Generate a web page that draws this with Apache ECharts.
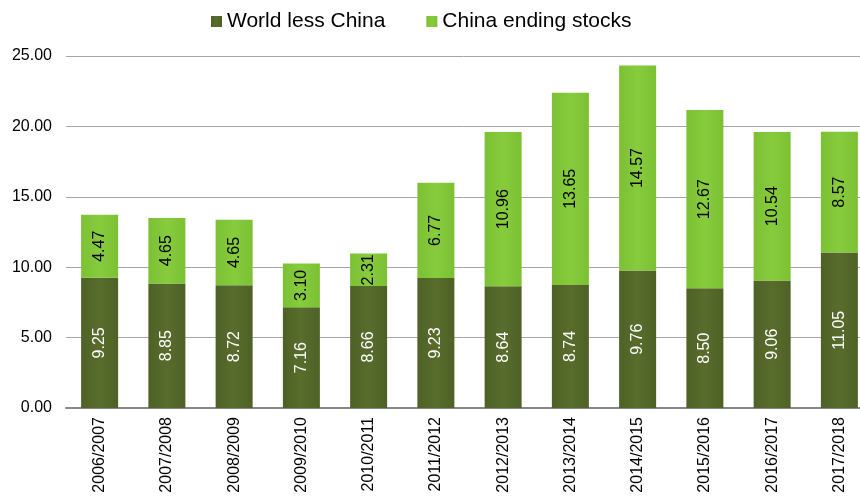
<!DOCTYPE html>
<html><head><meta charset="utf-8">
<script src="https://cdn.jsdelivr.net/npm/echarts@6/dist/echarts.min.js"></script>
<style>html,body{margin:0;padding:0;background:#fff}#c{width:860px;height:497px}</style>
</head><body><div id="c"></div>
<script>
const categories = ["2006/2007","2007/2008","2008/2009","2009/2010","2010/2011","2011/2012","2012/2013","2013/2014","2014/2015","2015/2016","2016/2017","2017/2018"];
const worldLessChina = [9.25,8.85,8.72,7.16,8.66,9.23,8.64,8.74,9.76,8.50,9.06,11.05];
const chinaStocks = [4.47,4.65,4.65,3.10,2.31,6.77,10.96,13.65,14.57,12.67,10.54,8.57];
const seriesNames = ["World less China","China ending stocks"];
const yTicks = {min:0,max:25,interval:5};

const chart = echarts.init(document.getElementById('c'));
const font = '"Liberation Sans", Arial, sans-serif';
function grad(c1,c2,c3){
  return new echarts.graphic.LinearGradient(0,0,1,0,[{offset:0,color:c1},{offset:0.5,color:c2},{offset:1,color:c3}]);
}
chart.setOption({
  animation:false,
  textStyle:{fontFamily:font},
  legend:{
    top:6,left:206,itemWidth:11,itemHeight:11,itemGap:41,icon:'rect',
    textStyle:{fontSize:21,color:'#000',fontFamily:font},
    data:seriesNames
  },
  grid:{left:66,width:807,top:56,height:352,containLabel:false,outerBoundsMode:'none'},
  xAxis:{
    type:'category',data:categories,
    axisLine:{lineStyle:{color:'#888',width:2}},
    axisTick:{show:false},
    axisLabel:{rotate:90,fontSize:16,color:'#000',margin:9,fontFamily:font}
  },
  yAxis:{
    type:'value',min:yTicks.min,max:yTicks.max,interval:yTicks.interval,
    axisLine:{show:false},axisTick:{show:false},
    splitLine:{lineStyle:{color:'#a6a6a6',width:1}},
    axisLabel:{formatter:v=>v.toFixed(2),fontSize:16,color:'#000',margin:14,fontFamily:font}
  },
  series:[
    {name:seriesNames[0],type:'bar',stack:'s',data:worldLessChina,barWidth:37,
     itemStyle:{color:grad('#4e6126','#586d2c','#4e6126')},
     label:{show:true,position:'inside',rotate:90,color:'#fff',fontSize:16,formatter:p=>p.value.toFixed(2),fontFamily:font}},
    {name:seriesNames[1],type:'bar',stack:'s',data:chinaStocks,barWidth:37,
     itemStyle:{color:grad('#7cc034','#86cc3c','#7cc034')},
     label:{show:true,position:'inside',rotate:90,color:'#000',fontSize:16,formatter:p=>p.value.toFixed(2),fontFamily:font}}
  ]
});
</script></body></html>
